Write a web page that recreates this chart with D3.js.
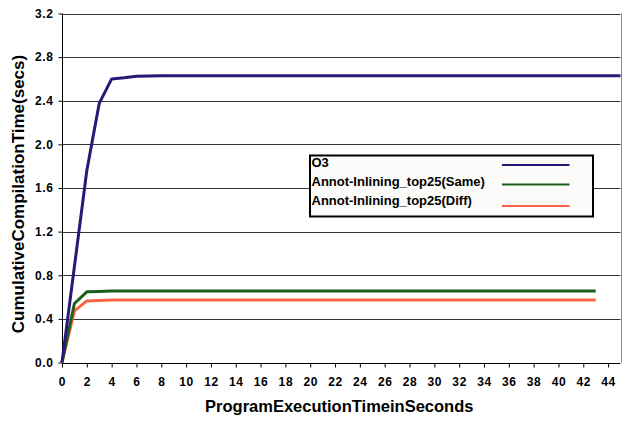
<!DOCTYPE html>
<html>
<head>
<meta charset="utf-8">
<script src="https://cdn.jsdelivr.net/npm/d3@7"></script>
<style>
  body { margin: 0; background: #fff; }
  text { font-family: "Liberation Sans", Arial, sans-serif; font-weight: bold; fill: #000; }
</style>
</head>
<body>
<svg id="chart" width="629" height="423"></svg>
<script>
// Cumulative compilation time over program execution time
const timeO3 = [0, 1, 2, 3, 4, 5, 6, 7, 8, 45];
const valO3 = [0, 0.88, 1.76, 2.376, 2.6, 2.61, 2.625, 2.628, 2.63, 2.63];

const timeSame = [0, 1, 2, 3, 4, 43];
const valSame = [0, 0.541, 0.648, 0.652, 0.655, 0.656];

const timeDiff = [0, 1, 2, 3, 4, 43];
const valDiff = [0, 0.473, 0.565, 0.569, 0.572, 0.572];

const seriesNames = ["O3", "Annot-Inlining_top25(Same)", "Annot-Inlining_top25(Diff)"];
const seriesColors = ["#2a1878", "#1b5e1b", "#fb6443"];

const xTicks = d3.range(0, 45, 2);
const yTicks = [0, 0.4, 0.8, 1.2, 1.6, 2.0, 2.4, 2.8, 3.2];

const xTitle = "ProgramExecutionTimeinSeconds";
const yTitle = "CumulativeCompilationTime(secs)";

const svg = d3.select("#chart");
const m = { left: 62, right: 620.5, top: 13.5, bottom: 362.5 };

const x = d3.scaleLinear().domain([0, 45]).range([m.left, m.right]);
const y = d3.scaleLinear().domain([0, 3.2]).range([m.bottom, m.top]);

// horizontal gridlines
svg.append("g")
  .selectAll("line")
  .data(yTicks.filter(d => d > 0))
  .join("line")
  .attr("x1", m.left).attr("x2", m.right)
  .attr("y1", d => Math.round(y(d)) + 0.5).attr("y2", d => Math.round(y(d)) + 0.5)
  .attr("stroke", "#333").attr("stroke-width", 1);

// right border of the plot area
svg.append("line")
  .attr("x1", Math.round(m.right) + 0.5).attr("x2", Math.round(m.right) + 0.5)
  .attr("y1", m.top).attr("y2", m.bottom)
  .attr("stroke", "#888").attr("stroke-width", 1);

const tickFont = sel => sel
  .style("font-size", "12px")
  .style("letter-spacing", "0.6px")
  .style("font-family", "Liberation Sans, Arial, sans-serif")
  .style("font-weight", "bold");

// y axis
const yAxis = svg.append("g")
  .attr("transform", `translate(${m.left + 0.5},0)`)
  .call(d3.axisLeft(y).tickValues(yTicks).tickFormat(d3.format(".1f")).tickSize(4).tickPadding(5));
yAxis.select(".domain").attr("stroke", "#000").attr("d", `M0,${m.top}V${m.bottom}`);
yAxis.selectAll(".tick line").attr("stroke", "#000");
yAxis.selectAll("text").call(tickFont);

// x axis
const xAxis = svg.append("g")
  .attr("transform", `translate(0,${Math.round(m.bottom) + 0.5})`)
  .call(d3.axisBottom(x).tickValues(xTicks).tickFormat(d3.format("d")).tickSize(4).tickPadding(10));
xAxis.select(".domain").attr("stroke", "#000").attr("d", `M${m.left},0H${m.right}`);
xAxis.selectAll(".tick line").attr("stroke", "#000");
xAxis.selectAll("text").call(tickFont);

// series lines
const line = d3.line().x(d => x(d[0])).y(d => y(d[1]));
const series = [
  d3.zip(timeO3, valO3),
  d3.zip(timeSame, valSame),
  d3.zip(timeDiff, valDiff)
];
// red first, then green, then purple on top
[2, 1, 0].forEach(i => {
  svg.append("path")
    .datum(series[i])
    .attr("d", line)
    .attr("fill", "none")
    .attr("stroke", seriesColors[i])
    .attr("stroke-width", 3)
    .attr("stroke-linejoin", "round");
});

// legend
const lg = svg.append("g");
lg.append("rect")
  .attr("x", 310).attr("y", 155.5).attr("width", 283).attr("height", 61)
  .attr("fill", "#fbfbf9").attr("stroke", "#000").attr("stroke-width", 2);
const legendRows = [
  { ty: 166.5, ly: 165 },
  { ty: 185.5, ly: 184.5 },
  { ty: 204.5, ly: 206 }
];
seriesNames.forEach((name, i) => {
  lg.append("text")
    .attr("x", 311.5).attr("y", legendRows[i].ty)
    .style("font-size", "13px")
    .text(name);
  lg.append("line")
    .attr("x1", 502).attr("x2", 569.5)
    .attr("y1", legendRows[i].ly).attr("y2", legendRows[i].ly)
    .attr("stroke", seriesColors[i]).attr("stroke-width", 2);
});

// axis titles
svg.append("text")
  .attr("x", (m.left + m.right) / 2 - 2).attr("y", 412)
  .attr("text-anchor", "middle")
  .style("font-size", "16.5px")
  .text(xTitle);

svg.append("text")
  .attr("transform", `translate(23.5,194) rotate(-90)`)
  .attr("text-anchor", "middle")
  .style("font-size", "17px")
  .text(yTitle);
</script>
</body>
</html>
